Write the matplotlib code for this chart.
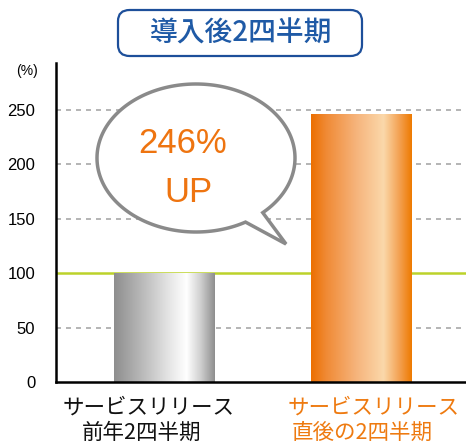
import numpy as np
import matplotlib
matplotlib.use("Agg")
import matplotlib.pyplot as plt
from matplotlib.colors import LinearSegmentedColormap
from matplotlib.patches import FancyBboxPatch, PathPatch
from matplotlib.path import Path

plt.rcParams["font.family"] = ["Liberation Sans", "Noto Sans CJK JP", "DejaVu Sans"]

# データ
categories_top = ["サービスリリース", "サービスリリース"]
categories_bottom = ["前年2四半期", "直後の2四半期"]
values = [100, 246]
yticks = [0, 50, 100, 150, 200, 250]
title = "導入後2四半期"
bubble_lines = ["246%", "UP"]

W, H = 466, 443
fig = plt.figure(figsize=(W / 100, H / 100), dpi=100)
ax = fig.add_axes([56 / W, 1 - 382 / H, (W - 56) / W, (382 - 63) / H])


def fx(px):
    return px / W


def fy(py):
    return 1 - py / H


grey_cmap = LinearSegmentedColormap.from_list(
    "g", [(0, "#8e8e8e"), (0.3, "#bdbdbd"), (0.55, "#e6e6e6"),
          (0.72, "#ffffff"), (0.86, "#cfcfcf"), (1, "#8e8e8e")])
orange_cmap = LinearSegmentedColormap.from_list(
    "o", [(0, "#ec6f00"), (0.15, "#f08a35"), (0.45, "#f6b47c"),
          (0.72, "#fbd8aa"), (0.88, "#f3a050"), (1, "#ee7a00")])
cmaps = [grey_cmap, orange_cmap]

xs = np.arange(len(values))
width = 0.506
bars = ax.bar(xs, values, width=width, color="none", zorder=3)
grad = np.linspace(0, 1, 256).reshape(1, -1)
for x, v, b, cm in zip(xs, values, bars, cmaps):
    im = ax.imshow(grad, cmap=cm, aspect="auto", zorder=3,
                   extent=(x - width / 2, x + width / 2, 0, v))
    im.set_clip_path(b)

# グリッド
for y in yticks[1:]:
    if y == 100:
        ax.axhline(y, color="#bcd22a", lw=1.8, zorder=2)
    else:
        ax.axhline(y, color="#a8a8a8", lw=1.2, ls=(0, (3, 3)), zorder=1)

ax.set_xlim(-0.544, 1.53)
ax.set_ylim(0, 293)
ax.set_yticks(yticks)
ax.tick_params(axis="y", length=0, pad=15, labelsize=12)
ax.set_xticks([])
for s in ["top", "right"]:
    ax.spines[s].set_visible(False)
ax.spines["left"].set_linewidth(1.8)
ax.spines["bottom"].set_linewidth(1.8)
ax.spines["bottom"].set_zorder(4)

fig.text(fx(27), fy(71), "(%)", ha="center", va="center", fontsize=10)

# x ラベル
label_colors = ["#111111", "#ee7a10"]
top_pos = [149, 374]
bottom_pos = [142, 362]
for t1, t2, c, p1, p2 in zip(categories_top, categories_bottom, label_colors,
                             top_pos, bottom_pos):
    fig.text(fx(p1), fy(408), t1, ha="center", va="center", fontsize=15.5,
             color=c, family=["Noto Sans CJK JP"])
    fig.text(fx(p2), fy(433), t2, ha="center", va="center", fontsize=15.5,
             color=c, family=["Noto Sans CJK JP"])

# タイトル枠
box = FancyBboxPatch((fx(118), fy(56)), fx(362) - fx(118), fy(10) - fy(56),
                     boxstyle="round,pad=0,rounding_size=0.025",
                     transform=fig.transFigure, fc="white", ec="#1d4f9a", lw=1.6)
fig.patches.append(box)
fig.text(fx(241), fy(33), title, ha="center", va="center", fontsize=20,
         color="#1f5aa6", fontweight="medium", family=["Noto Sans CJK JP"])

# 吹き出し
cx, cy, ra, rb = 196, 158, 99, 74
t1, t2 = np.radians(-47.6), np.radians(300)
ts = np.linspace(t1, t2, 200)
pts = [(cx + ra * np.cos(t), cy - rb * np.sin(t)) for t in ts]
pts.append((286, 244))
pts.append(pts[0])
verts = [(fx(px), fy(py)) for px, py in pts]
codes = [Path.MOVETO] + [Path.LINETO] * (len(verts) - 2) + [Path.CLOSEPOLY]
bubble = PathPatch(Path(verts, codes), transform=fig.transFigure,
                   fc="white", ec="#8a8a8a", lw=2.5, joinstyle="miter")
fig.patches.append(bubble)
fig.text(fx(183), fy(143), bubble_lines[0], ha="center", va="center",
         fontsize=25, color="#ee7410")
fig.text(fx(188), fy(193), bubble_lines[1], ha="center", va="center",
         fontsize=25, color="#ee7410")

fig.savefig("out.png", dpi=100)
